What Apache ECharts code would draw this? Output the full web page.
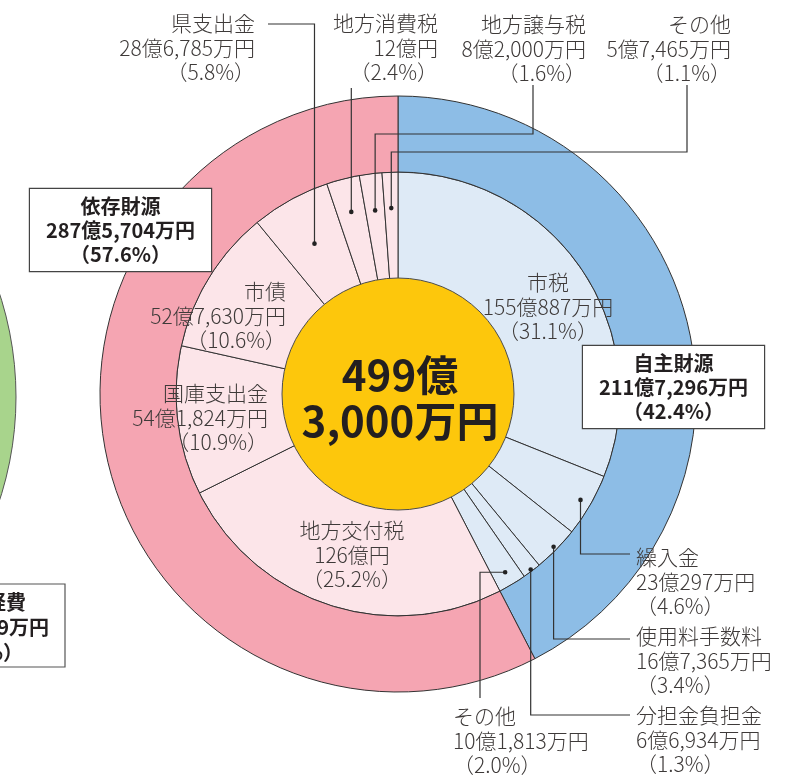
<!DOCTYPE html>
<html><head><meta charset="utf-8">
<script src="https://cdn.jsdelivr.net/npm/echarts/dist/echarts.min.js"></script>
<style>html,body{margin:0;padding:0;background:#fff}#c{width:785px;height:775px}</style>
</head><body><div id="c"></div>
<script>
// ---- data (万円) ----
const selfNames = ['市税', '繰入金', '使用料手数料', '分担金負担金', 'その他'];
const selfValues = [1550887, 230297, 167365, 66934, 101813];
const selfPct = ['31.1', '4.6', '3.4', '1.3', '2.0'];
const depNames = ['地方交付税', '国庫支出金', '市債', '県支出金', '地方消費税', '地方譲与税', 'その他'];
const depValues = [1260000, 541824, 527630, 286785, 120000, 82000, 57465];
const depPct = ['25.2', '10.9', '10.6', '5.8', '2.4', '1.6', '1.1'];
const groupNames = ['自主財源', '依存財源'];
const groupPct = ['42.4', '57.6'];
const cutBoxLines = ['経費', '9万円', '%）'];

// ---- layout ----
const CX = 398, CY = 394;
const FONT = '"Noto Sans CJK JP", "Noto Sans", sans-serif';
const TXT = '#3e3a39';

function fmtMan(v) {
  const oku = Math.floor(v / 10000), man = v % 10000;
  return man ? oku + '億' + man.toLocaleString('en-US') + '万円' : oku + '億円';
}

const innerNames = selfNames.concat(depNames);
const innerValues = selfValues.concat(depValues);
const innerPct = selfPct.concat(depPct);
const nSelf = selfNames.length;
const total = innerValues.reduce((a, b) => a + b, 0);
const groupValues = [selfValues.reduce((a, b) => a + b, 0), depValues.reduce((a, b) => a + b, 0)];

const innerData = innerNames.map((n, i) => ({
  name: n, value: innerValues[i],
  itemStyle: { color: i < nSelf ? '#deeaf6' : '#fce5e9' }
}));
const outerData = groupNames.map((n, i) => ({
  name: n, value: groupValues[i],
  itemStyle: { color: i === 0 ? '#8dbde6' : '#f5a5b2' }
}));

// label anchor positions [x, y(middle), align]
const innerLabelPos = [
  [548, 307, 'center'],
  [636, 582, 'left'],
  [636, 661, 'left'],
  [636, 740, 'left'],
  [453, 741, 'left'],
  [352, 555, 'center'],
  [268, 418, 'right'],
  [286, 316, 'right'],
  [255, 48, 'right'],
  [438, 48, 'right'],
  [586, 49, 'right'],
  [731, 49, 'right']
];
const outerLabelPos = [[673.5, 387], [120.5, 230]];

// leader lines: slice index, dot radius, route
const leaders = [
  { i: 8, r: 172, pts: d => [[d[0], 24], [268, 24]] },
  { i: 9, r: 188, pts: d => [[d[0], 88]] },
  { i: 10, r: 185, pts: d => [[d[0], 134], [533, 134], [533, 85]] },
  { i: 11, r: 186, pts: d => [[d[0], 152], [687, 152], [687, 85]] },
  { i: 1, r: 211, pts: d => [[d[0], 554], [630, 554]] },
  { i: 2, r: 218, pts: d => [[d[0], 639], [630, 639]] },
  { i: 3, r: 220, pts: d => [[d[0], 715], [630, 715]] },
  { i: 4, r: 208, pts: d => [[480, d[1]], [480, 698]] }
];

let cum = 0;
const midFrac = innerValues.map(v => { const m = cum + v / 2; cum += v; return m / total; });
function polar(frac, r) {
  const a = (90 - 360 * frac) * Math.PI / 180;
  return [CX + r * Math.cos(a), CY - r * Math.sin(a)];
}

const graphics = [];
leaders.forEach(L => {
  const d = polar(midFrac[L.i], L.r);
  graphics.push({
    type: 'polyline', z: 100, silent: true,
    shape: { points: [d].concat(L.pts(d)) },
    style: { stroke: '#333', lineWidth: 1.2, fill: null }
  });
  graphics.push({
    type: 'circle', z: 101, silent: true,
    shape: { cx: d[0], cy: d[1], r: 2.3 },
    style: { fill: '#222' }
  });
});
// cut-off box at left edge
graphics.push({
  type: 'rect', z: 100, silent: true,
  shape: { x: -30, y: 584, width: 95, height: 83 },
  style: { fill: '#fff', stroke: '#555', lineWidth: 1.2 }
});
const cutX = [26, 49, 23], cutY = [602, 627, 652];
cutBoxLines.forEach((t, k) => graphics.push({
  type: 'text', z: 101, silent: true,
  style: { text: t, x: cutX[k], y: cutY[k], align: 'right', verticalAlign: 'middle',
    font: 'bold 20px ' + FONT, fill: '#231f20' }
}));

const totalLabel = fmtMan(total).replace('億', '億\n');

const chart = echarts.init(document.getElementById('c'), null, { renderer: 'canvas' });
chart.setOption({
  animation: false,
  backgroundColor: '#fff',
  graphic: graphics,
  series: [
    {
      type: 'pie', silent: true, center: [-317, 397], radius: [0, 333],
      data: [{ name: '', value: 1, itemStyle: { color: '#a8d48c' } }],
      itemStyle: { borderColor: '#555', borderWidth: 1 },
      label: { show: false }, labelLine: { show: false }
    },
    {
      type: 'pie', silent: true, center: [CX, CY], radius: [0, 222],
      startAngle: 90, clockwise: true, avoidLabelOverlap: false,
      data: innerData,
      itemStyle: { borderColor: '#333', borderWidth: 1 },
      label: {
        show: true, position: 'outside', overflow: 'none',
        fontFamily: FONT, fontSize: 21, fontWeight: 300, lineHeight: 24.5, color: TXT,
        formatter: p => p.name + '\n' + fmtMan(p.value) + '\n（' + innerPct[p.dataIndex] + '%）'
      },
      labelLine: { show: false },
      labelLayout: p => {
        const L = innerLabelPos[p.dataIndex];
        return { x: L[0], y: L[1], align: L[2], verticalAlign: 'middle' };
      }
    },
    {
      type: 'pie', silent: true, center: [CX, CY], radius: [222, 298],
      startAngle: 90, clockwise: true, avoidLabelOverlap: false,
      data: outerData,
      itemStyle: { borderColor: '#333', borderWidth: 1 },
      label: {
        show: true, position: 'outside', overflow: 'none',
        fontFamily: FONT, fontSize: 20, fontWeight: 'bold', lineHeight: 24, color: '#231f20',
        backgroundColor: '#fff', borderColor: '#444', borderWidth: 1.2,
        width: 147, height: 72, padding: [5, 17], align: 'center',
        formatter: p => p.name + '\n' + fmtMan(p.value) + '\n（' + groupPct[p.dataIndex] + '%）'
      },
      labelLine: { show: false },
      labelLayout: p => {
        const L = outerLabelPos[p.dataIndex];
        return { x: L[0], y: L[1], align: 'center', verticalAlign: 'middle' };
      }
    },
    {
      type: 'pie', silent: true, center: [CX, CY], radius: [0, 116],
      data: [{ name: '合計', value: total, itemStyle: { color: '#fdc70c' } }],
      itemStyle: { borderColor: '#4d4d4d', borderWidth: 1 },
      label: {
        show: true, position: 'center',
        fontFamily: FONT, fontSize: 42, fontWeight: 'bold', lineHeight: 46, color: '#231f20',
        formatter: () => totalLabel
      },
      labelLine: { show: false },
      labelLayout: () => ({ x: CX + 2, y: 398, align: 'center', verticalAlign: 'middle' })
    }
  ]
});
</script>
</body></html>
